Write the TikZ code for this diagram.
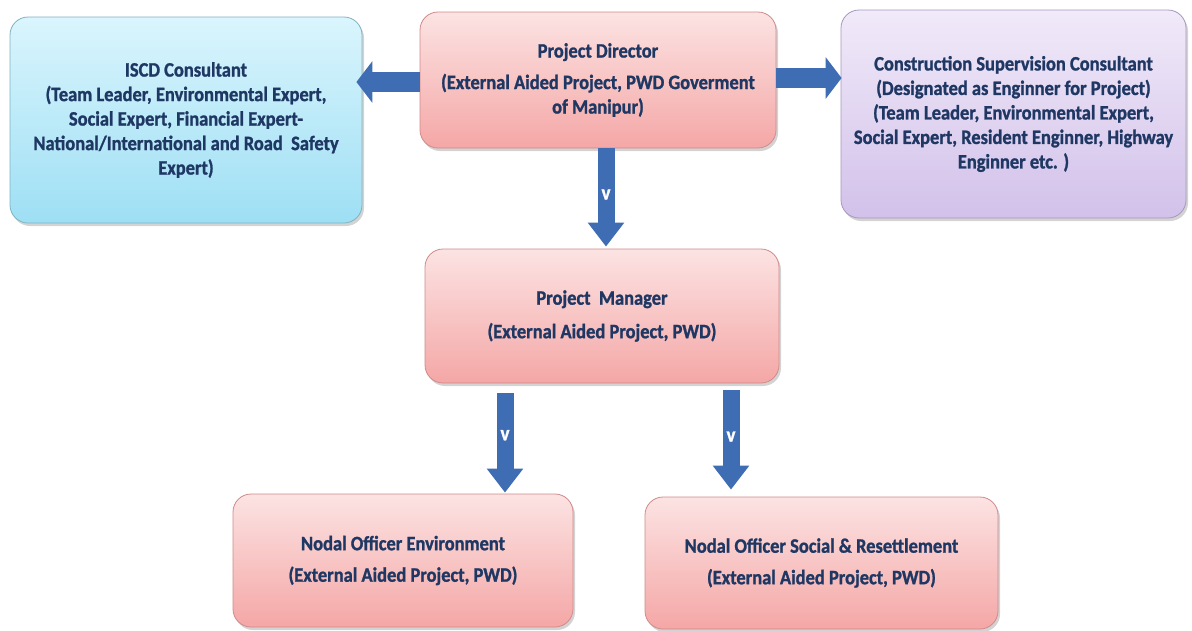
\documentclass[tikz,border=0pt]{standalone}
\usepackage{fontspec}
\setmainfont{Carlito}[FakeStretch=0.9,BoldFeatures={FakeBold=1.2}]
\usetikzlibrary{arrows.meta,shadows,calc}
\definecolor{txt}{HTML}{1F3763}
\definecolor{pinkT}{HTML}{FCE3E3}
\definecolor{pinkB}{HTML}{F4A7A6}
\definecolor{pinkD}{HTML}{D08A89}
\definecolor{cyanT}{HTML}{DAF5FD}
\definecolor{cyanB}{HTML}{9EDFF4}
\definecolor{cyanD}{HTML}{7FB3C2}
\definecolor{lavT}{HTML}{F1EAF9}
\definecolor{lavB}{HTML}{D2C1EA}
\definecolor{lavD}{HTML}{A797BE}
\definecolor{arrowblue}{HTML}{3F6DB3}
\tikzset{
  box/.style={rounded corners=18pt, line width=0.8pt, align=center, inner sep=4pt,
    font=\fontsize{20.5}{24.5}\selectfont\bfseries, text=txt,
    drop shadow={opacity=0.35, shadow xshift=2pt, shadow yshift=-3pt}},
  pinkbox/.style={box, draw=pinkD, top color=pinkT, bottom color=pinkB},
  cyanbox/.style={box, draw=cyanD, top color=cyanT, bottom color=cyanB},
  lavbox/.style={box, draw=lavD, top color=lavT, bottom color=lavB},
  hblock/.style={line width=20pt, draw=arrowblue, -{Triangle[length=16pt,width=41pt]}},
  vblock/.style={line width=17pt, draw=arrowblue, -{Triangle[length=24pt,width=35pt]}},
  vlab/.style={text=white, font=\fontsize{21}{21}\selectfont\bfseries, inner sep=0pt}
}
\begin{document}
\begin{tikzpicture}[x=1pt,y=-1pt]
\useasboundingbox (0,0) rectangle (1192,630);
\node[cyanbox, minimum width=352pt, minimum height=206pt] (iscd) at (186,120)
  {ISCD Consultant\\(Team Leader, Environmental Expert,\\Social Expert, Financial Expert-\\National/International and Road~ Safety\\Expert)};
\node[pinkbox, minimum width=356pt, minimum height=136pt] (pd) at (598,80)
  {Project Director\\[7pt](External Aided Project, PWD Goverment\\of Manipur)};
\node[lavbox, minimum width=345pt, minimum height=208pt] (csc) at (1013.5,114)
  {Construction Supervision Consultant\\(Designated as Enginner for Project)\\(Team Leader, Environmental Expert,\\Social Expert, Resident Enginner, Highway\\Enginner etc. )};
\node[pinkbox, minimum width=354pt, minimum height=134pt] (pm) at (602,316)
  {Project~ Manager\\[9pt](External Aided Project, PWD)};
\node[pinkbox, minimum width=340pt, minimum height=133pt] (ne) at (403,560.5)
  {Nodal Officer Environment\\[7pt](External Aided Project, PWD)};
\node[pinkbox, minimum width=353pt, minimum height=132pt] (ns) at (821.5,563)
  {Nodal Officer Social \& Resettlement\\[7pt](External Aided Project, PWD)};
% arrows
\draw[hblock, shorten >=-6pt] (pd.west |- 0,82) -- (iscd.east |- 0,82);
\draw[hblock, shorten >=-1pt] (pd.east |- 0,78) -- (csc.west |- 0,78);
\draw[vblock, shorten >=2pt] (pd.south -| 606,0) -- (pm.north -| 606,0)
  node[vlab, pos=0.46] {v};
\draw[vblock, shorten <=10pt, shorten >=1pt] (pm.south -| 505,0) -- (ne.north -| 505,0)
  node[vlab, pos=0.47] {v};
\draw[vblock, shorten <=7pt, shorten >=7pt] (pm.south -| 731,0) -- (ns.north -| 731,0)
  node[vlab, pos=0.47] {v};
\end{tikzpicture}
\end{document}
